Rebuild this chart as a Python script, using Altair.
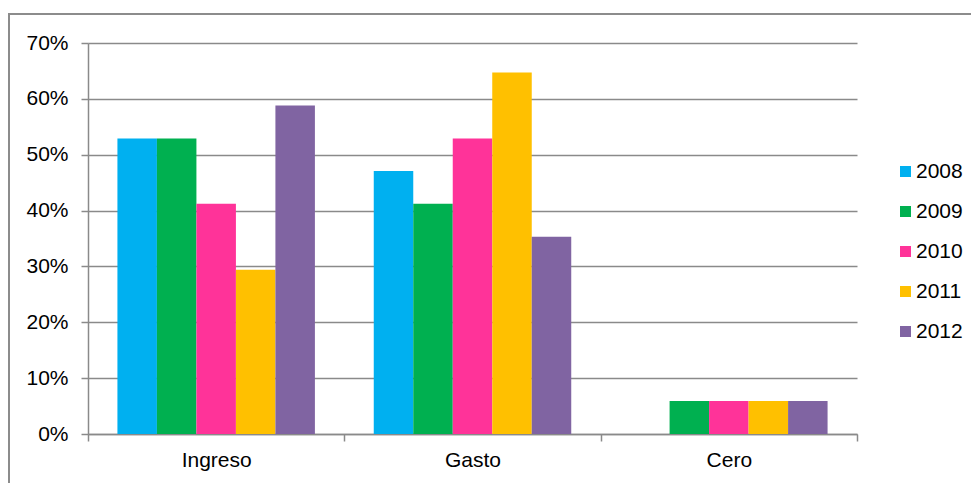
import altair as alt
import pandas as pd

categories = ["Ingreso", "Gasto", "Cero"]
years = ["2008", "2009", "2010", "2011", "2012"]
colors = ["#00B0F0", "#00B050", "#FF3399", "#FFC000", "#8064A2"]

# Share of cases per category and year (fractions)
ingreso = [0.529, 0.529, 0.412, 0.294, 0.588]
gasto = [0.471, 0.412, 0.529, 0.647, 0.353]
cero = [0.0, 0.059, 0.059, 0.059, 0.059]

rows = []
for cat, vals in zip(categories, [ingreso, gasto, cero]):
    for yr, v in zip(years, vals):
        rows.append({"categoria": cat, "anio": yr, "valor": v})
df = pd.DataFrame(rows)

W, H = 769, 391
font = "Liberation Sans"
fsize = 21
grid_color = "#8a8a8a"

bars = alt.Chart(df).mark_bar(size=39.5).encode(
    x=alt.X(
        "categoria:N",
        sort=categories,
        title=None,
        scale=alt.Scale(paddingInner=0, paddingOuter=0),
        axis=alt.Axis(
            labelAngle=0,
            tickBand="extent",
            tickSize=7,
            tickColor=grid_color,
            tickWidth=1.5,
            domainColor=grid_color,
            domainWidth=1.5,
            labelPadding=8,
            labelFont=font,
            labelFontSize=fsize,
            labelColor="#000000",
        ),
    ),
    xOffset=alt.XOffset(
        "anio:N",
        sort=years,
        scale=alt.Scale(paddingInner=0, paddingOuter=0.745),
    ),
    y=alt.Y(
        "valor:Q",
        title=None,
        scale=alt.Scale(domain=[0, 0.7], nice=False),
        axis=alt.Axis(
            format=".0%",
            values=[0, 0.1, 0.2, 0.3, 0.4, 0.5, 0.6, 0.7],
            tickSize=7,
            tickColor=grid_color,
            tickWidth=1.5,
            domainColor=grid_color,
            domainWidth=1.5,
            gridColor=grid_color,
            gridWidth=1.5,
            labelPadding=13,
            labelFont=font,
            labelFontSize=fsize,
            labelColor="#000000",
        ),
    ),
    color=alt.Color(
        "anio:N",
        sort=years,
        scale=alt.Scale(domain=years, range=colors),
        legend=alt.Legend(
            title=None,
            orient="none",
            legendX=807,
            legendY=118,
            symbolType="square",
            symbolSize=121,
            symbolStrokeWidth=0,
            labelFont=font,
            labelFontSize=fsize,
            labelColor="#000000",
            labelOffset=0,
            rowPadding=18,
        ),
    ),
)

# Outer frame around the whole chart
frame = alt.Chart(pd.DataFrame({"k": [0]})).mark_rect(
    filled=False, stroke="#8c8c8c", strokeWidth=2, clip=False
).encode(
    x=alt.value(-79),
    x2=alt.value(W + 300),
    y=alt.value(-29),
    y2=alt.value(H + 200),
)

chart = (
    alt.layer(frame, bars)
    .properties(
        width=W,
        height=H,
        autosize=alt.AutoSizeParams(type="none"),
        padding={"left": 88, "top": 43, "right": 114, "bottom": 49},
        background="#ffffff",
    )
    .configure_view(stroke=None)
)

chart.save("out.html", embed_options={"renderer": "svg", "actions": False})
